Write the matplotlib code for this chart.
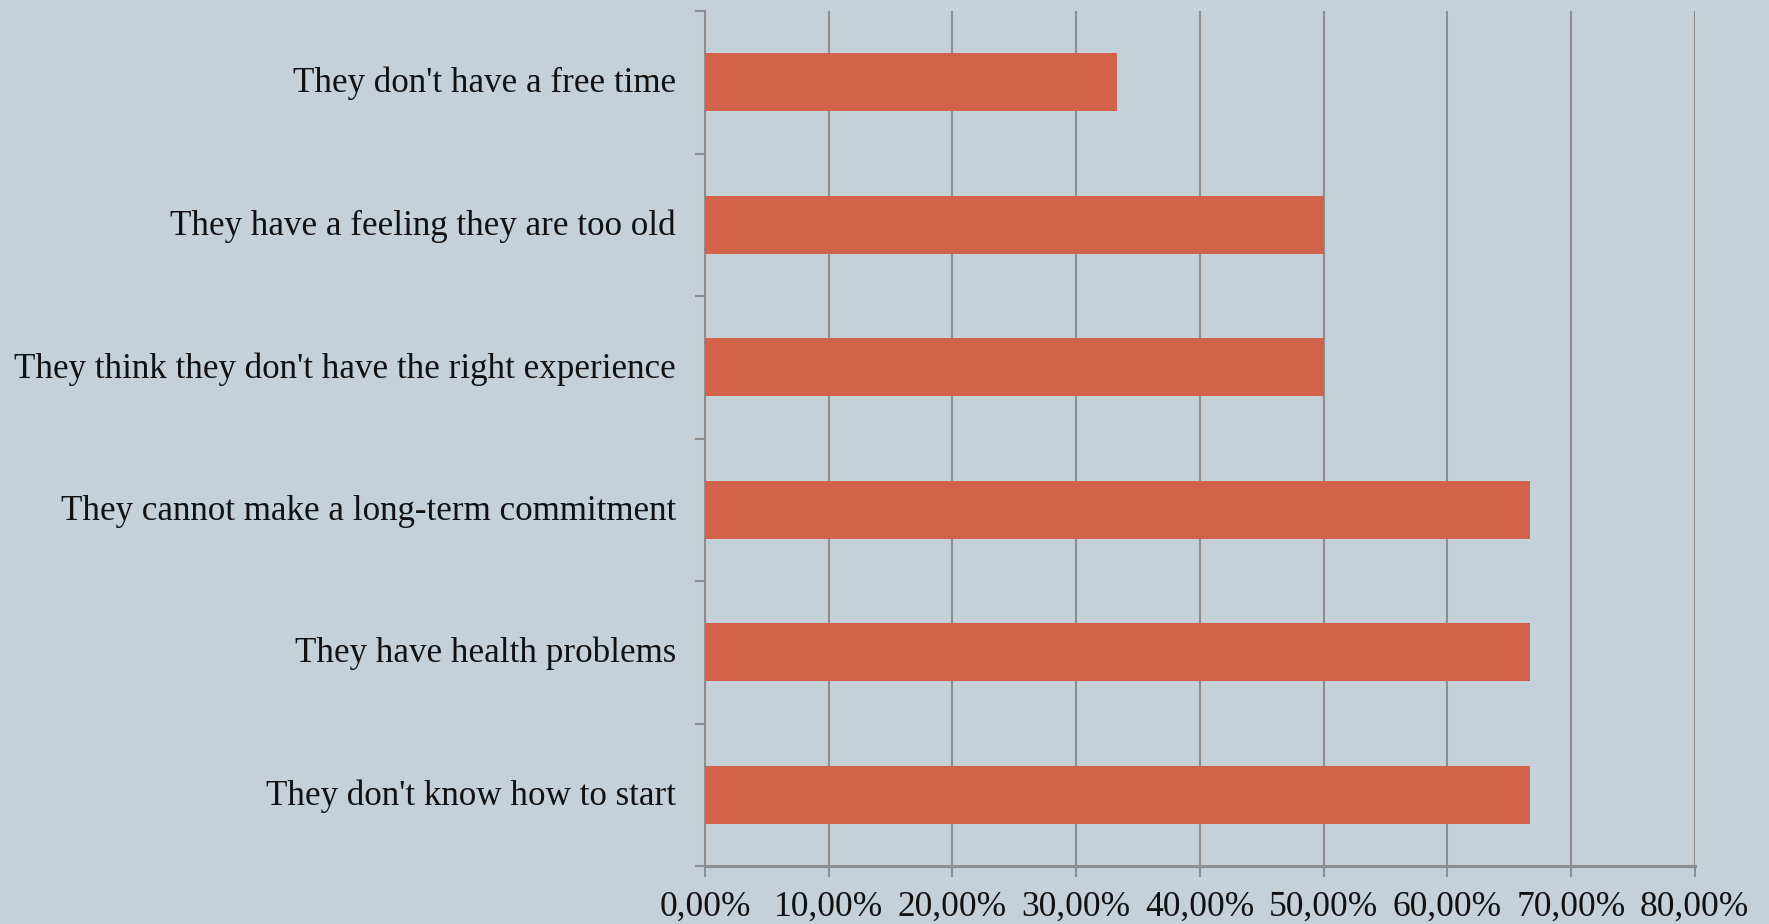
import matplotlib
matplotlib.use("Agg")
import matplotlib.pyplot as plt
import matplotlib.transforms as mtransforms
from matplotlib.ticker import FixedLocator, FuncFormatter

categories = [
    "They don't know how to start",
    "They have health problems",
    "They cannot make a long-term commitment",
    "They think they don't have the right experience",
    "They have a feeling they are too old",
    "They don't have a free time",
]
values = [66.67, 66.67, 66.67, 50.0, 50.0, 33.33]
x_ticks = [0, 10, 20, 30, 40, 50, 60, 70, 80]

BG = "#C5D1D8"
BAR = "#D2634A"
GRID = "#8E8E8E"
FONT = ["Liberation Serif", "DejaVu Serif"]

fig = plt.figure(figsize=(17.69, 9.24), dpi=100, facecolor=BG)
ax = fig.add_axes([705/1769, 1-866/924, (1694.6-705)/1769, (866-11)/924])
ax.set_facecolor(BG)

ypos = list(range(len(categories)))
ax.barh(ypos, values, height=0.41, color=BAR, zorder=3)

ax.set_xlim(0, 80)
ax.set_ylim(-0.5, len(categories) - 0.5)

ax.xaxis.set_major_locator(FixedLocator(x_ticks))
ax.xaxis.set_major_formatter(FuncFormatter(lambda v, p: f"{v:.2f}".replace(".", ",") + "%"))
ax.grid(axis="x", color=GRID, linewidth=1.5, zorder=1)
ax.set_axisbelow(True)

ax.set_yticks(ypos)
ax.set_yticklabels(categories)
ax.yaxis.set_minor_locator(FixedLocator([i - 0.5 for i in range(len(categories) + 1)]))
ax.tick_params(axis="y", which="major", length=0, pad=21)
ax.tick_params(axis="y", which="minor", length=7, width=1.5, color=GRID, direction="out")
ax.tick_params(axis="x", which="major", length=8, width=1.5, color=GRID, pad=10)

shift = mtransforms.ScaledTranslation(0, 2.5 / 100, fig.dpi_scale_trans)
for lab in ax.get_yticklabels():
    lab.set_fontfamily(FONT)
    lab.set_fontsize(25.2)
    lab.set_color("#111111")
    lab.set_transform(lab.get_transform() + shift)
for lab in ax.get_xticklabels():
    lab.set_fontfamily(FONT)
    lab.set_fontsize(25.5)
    lab.set_color("#111111")

for s in ["top", "right"]:
    ax.spines[s].set_visible(False)
ax.spines["left"].set_color(GRID)
ax.spines["left"].set_linewidth(1.5)
ax.spines["bottom"].set_color(GRID)
ax.spines["bottom"].set_linewidth(2.2)

fig.savefig("out.png", dpi=100, facecolor=BG)
